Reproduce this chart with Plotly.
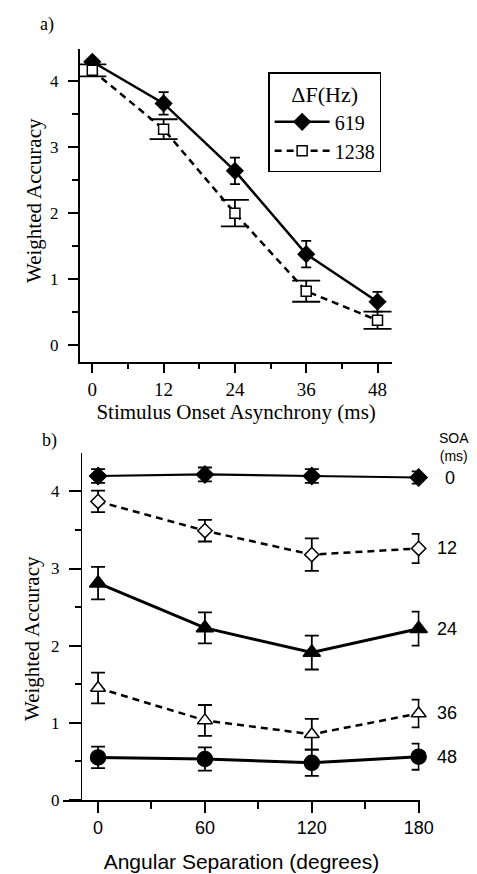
import plotly.graph_objects as go

# ---------------- data ----------------
soa_ms = [0, 12, 24, 36, 48]
acc_619 = [4.29, 3.66, 2.64, 1.38, 0.66]
err_619 = [0.04, 0.17, 0.2, 0.2, 0.15]
acc_1238 = [4.16, 3.27, 2.0, 0.82, 0.38]
err_1238 = [0.09, 0.15, 0.2, 0.16, 0.13]

ang_deg = [0, 60, 120, 180]
soa0 = [4.2, 4.22, 4.2, 4.18]
soa0_err = [0.09, 0.09, 0.09, 0.08]
soa12 = [3.87, 3.49, 3.18, 3.26]
soa12_err = [0.14, 0.14, 0.21, 0.19]
soa24 = [2.81, 2.23, 1.91, 2.22]
soa24_err = [0.21, 0.2, 0.22, 0.22]
soa36 = [1.45, 1.03, 0.85, 1.12]
soa36_err = [0.2, 0.2, 0.2, 0.18]
soa48 = [0.55, 0.53, 0.48, 0.56]
soa48_err = [0.14, 0.15, 0.17, 0.17]
soa_labels = ["0", "12", "24", "36", "48"]

W, H = 477, 874
SERIF = "Liberation Serif"
SANS = "Liberation Sans"


def px(x):
    return x / W


def py(y):
    return 1 - y / H


fig = go.Figure()

# ---------------- panel a ----------------
fig.add_trace(go.Scatter(
    x=soa_ms, y=acc_619, name="619", mode="lines+markers", cliponaxis=False,
    line=dict(color="black", width=2.5),
    marker=dict(symbol="diamond", size=14, color="black"),
    error_y=dict(type="data", array=err_619, color="black", thickness=1.8, width=5),
    xaxis="x", yaxis="y"))
fig.add_trace(go.Scatter(
    x=soa_ms, y=acc_1238, name="1238", mode="lines+markers", cliponaxis=False,
    line=dict(color="black", width=2.5, dash="7px,5px"),
    marker=dict(symbol="square", size=10, color="white", line=dict(color="black", width=1.5)),
    error_y=dict(type="data", array=err_1238, color="black", thickness=1.8, width=14),
    xaxis="x", yaxis="y"))

# ---------------- panel b ----------------
series_b = [
    (soa0, soa0_err, "diamond", 13, "black", "solid", 2.2),
    (soa12, soa12_err, "diamond", 11, "white", "7px,5px", 2.5),
    (soa24, soa24_err, "triangle-up", 15, "black", "solid", 3.0),
    (soa36, soa36_err, "triangle-up", 13, "white", "7px,5px", 2.5),
    (soa48, soa48_err, "circle", 15, "black", "solid", 3.0),
]
for vals, errs, sym, size, fill, dash, lw in series_b:
    fig.add_trace(go.Scatter(
        x=ang_deg, y=vals, mode="lines+markers", showlegend=False, cliponaxis=False,
        line=dict(color="black", width=lw, dash=dash),
        marker=dict(symbol=sym, size=size, color=fill, line=dict(color="black", width=1.5)),
        error_y=dict(type="data", array=errs, color="black", thickness=1.8, width=7),
        xaxis="x2", yaxis="y2"))

axis_common = dict(showgrid=False, zeroline=False, showline=True, linecolor="black",
                   ticks="outside", tickcolor="black")

fig.update_layout(
    width=W, height=H,
    margin=dict(l=0, r=0, t=0, b=0),
    paper_bgcolor="white", plot_bgcolor="white",
    font=dict(family=SERIF, color="black", size=18),
    xaxis=dict(**axis_common, domain=[px(74), px(396)], range=[-2.1, 50.5],
               tickvals=[0, 12, 24, 36, 48], ticklen=9, tickwidth=2, linewidth=2,
               minor=dict(tickvals=[6, 18, 30, 42], ticklen=5, tickwidth=2, ticks="outside", tickcolor="black"),
               tickfont=dict(family=SERIF, size=19),
               title=dict(text="Stimulus Onset Asynchrony (ms)", font=dict(family=SERIF, size=21), standoff=0),
               anchor="y"),
    yaxis=dict(**axis_common, domain=[py(358), py(41)], range=[-0.25, 4.49],
               tickvals=[0, 1, 2, 3, 4], ticklen=10, tickwidth=2, linewidth=2,
               ticklabelstandoff=6,
               minor=dict(tickvals=[0.5, 1.5, 2.5, 3.5], ticklen=6, tickwidth=2, ticks="outside", tickcolor="black"),
               tickfont=dict(family=SERIF, size=17),
               anchor="x"),
    xaxis2=dict(**axis_common, domain=[px(57), px(424)], range=[-19.5, 180.5],
                tickvals=[0, 60, 120, 180], ticklen=11, tickwidth=2, linewidth=2,
                minor=dict(tickvals=[30, 90, 150], ticklen=7, tickwidth=2, ticks="outside", tickcolor="black"),
                tickfont=dict(family=SANS, size=18),
                title=dict(text="Angular Separation (degrees)", font=dict(family=SANS, size=21), standoff=17),
                anchor="y2"),
    yaxis2=dict(**axis_common, domain=[py(801), py(450)], range=[0, 4.5],
                tickvals=[0, 1, 2, 3, 4], ticklen=12, tickwidth=2, linewidth=1,
                ticklabelstandoff=6,
                minor=dict(tickvals=[0.5, 1.5, 2.5, 3.5], ticklen=6, tickwidth=2, ticks="outside", tickcolor="black"),
                tickfont=dict(family=SERIF, size=17),
                anchor="free", position=px(75)),
    legend=dict(x=px(268), y=py(65), xanchor="left", yanchor="top",
                bordercolor="black", borderwidth=1.5, bgcolor="white",
                font=dict(family=SERIF, size=20),
                title=dict(text="ΔF(Hz)", side="top center", font=dict(family=SERIF, size=22)),
                itemwidth=55, tracegroupgap=0),
)

annotations = [
    dict(text="a)", x=px(40), y=py(17), font=dict(family=SERIF, size=18)),
    dict(text="b)", x=px(43), y=py(438), font=dict(family=SERIF, size=18)),
    dict(text="Weighted Accuracy", x=px(27), y=py(195), textangle=-90, font=dict(family=SERIF, size=21)),
    dict(text="Weighted Accuracy", x=px(24), y=py(638), textangle=-90, font=dict(family=SERIF, size=21)),
    dict(text="SOA<br>(ms)", x=px(460), y=py(444), font=dict(family=SANS, size=14)),
]
label_x = [455, 452, 452, 452, 452]
for lab, vals, lx in zip(soa_labels, [soa0, soa12, soa24, soa36, soa48], label_x):
    annotations.append(dict(text=lab, x=px(lx), y=vals[-1], yref="y2",
                            font=dict(family=SANS, size=18)))

for a in annotations:
    a.setdefault("xref", "paper")
    a.setdefault("yref", "paper")
    a["showarrow"] = False
    a["xanchor"] = "center"
    a["yanchor"] = "middle"
fig.update_layout(annotations=annotations)

fig.write_html("out.html")
